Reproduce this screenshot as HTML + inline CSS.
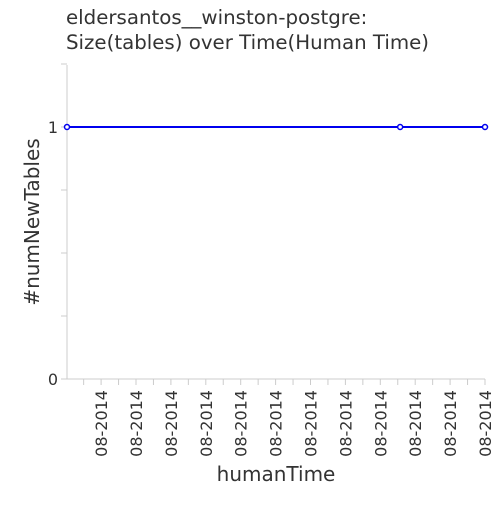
<!DOCTYPE html>
<html><head><meta charset="utf-8"><style>
body{margin:0;background:#fff;width:500px;height:500px;overflow:hidden}
text{font-family:"DejaVu Sans","Liberation Sans",sans-serif;fill:#333}
</style></head><body>
<svg id="chart" width="500" height="500" xmlns="http://www.w3.org/2000/svg">
<text x="66" y="24" font-size="19.8">eldersantos__winston-postgre:</text>
<text x="66" y="49" font-size="19.8">Size(tables) over Time(Human Time)</text>
<g id="axes"></g>
<g id="marks"></g>
<text x="276" y="481" font-size="20" text-anchor="middle">humanTime</text>
<text transform="translate(39,222) rotate(-90)" font-size="20" text-anchor="middle">#numNewTables</text>
</svg>
<script>
const xValues=[0,0.797,1];
const yValues=[1,1,1];
const yTickLabels=["0","1"];
const xTickLabels=["08-2014","08-2014","08-2014","08-2014","08-2014","08-2014","08-2014","08-2014","08-2014","08-2014","08-2014","08-2014"];
const X0=67,X1=485,Y0=379,Y1=127;
const sx=v=>X0+v*(X1-X0);
const sy=v=>Y0-v*(Y0-Y1);
const NS="http://www.w3.org/2000/svg";
function mk(t,a,p){const e=document.createElementNS(NS,t);for(const k in a)e.setAttribute(k,a[k]);p.appendChild(e);return e;}
const ax=document.getElementById('axes'),mg=document.getElementById('marks');
let e=mk('line',{x1:X0,y1:65,x2:X0,y2:Y0,stroke:'#ccc'},ax);


e=mk('line',{x1:X0,y1:Y0,x2:X1,y2:Y0,stroke:'#ccc'},ax);


[0,0.25,0.5,0.75,1,1.25].forEach(v=>{mk('line',{x1:X0-6,x2:X0,y1:sy(v),y2:sy(v),stroke:'#ccc'},ax);});
yTickLabels.forEach((l,i)=>{const t=mk('text',{x:X0-9,y:sy(+l)+6,'font-size':16,'text-anchor':'end'},ax);t.textContent=l;

});
for(let k=0;k<24;k++){const x=X1-k*17.45;if(x<X0+5)break;mk('line',{x1:x,x2:x,y1:Y0,y2:Y0+6,stroke:'#ccc'},ax);}
xTickLabels.forEach((l,i)=>{const x=X1-(xTickLabels.length-1-i)*34.9;const t=mk('text',{transform:`translate(${x+6},390) rotate(-90)`,'font-size':16,'text-anchor':'end'},ax);t.textContent=l;

});
const p=mk('polyline',{points:xValues.map((v,i)=>sx(v)+','+sy(yValues[i])).join(' '),fill:'none',stroke:'#0000ee','stroke-width':2},mg);


xValues.forEach((v,i)=>{const c=mk('circle',{cx:sx(v),cy:sy(yValues[i]),r:2.5,fill:'#fff',stroke:'#0000ee','stroke-width':1.5},mg);

});
</script>
</body></html>
